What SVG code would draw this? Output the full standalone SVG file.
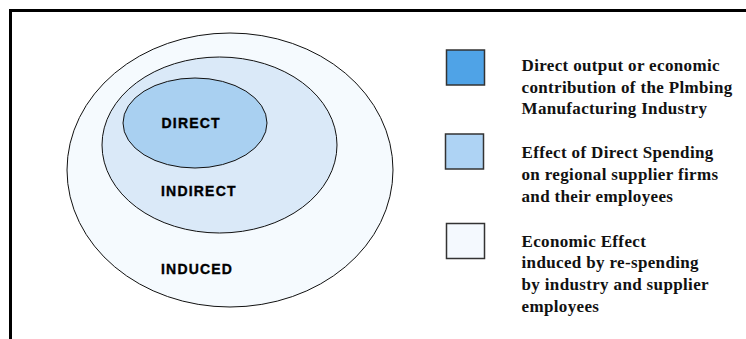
<svg xmlns="http://www.w3.org/2000/svg" width="746" height="339" viewBox="0 0 746 339">
<style>
.ell{stroke:#111;stroke-width:1}
.lbl{font-family:"Liberation Sans",Arial,sans-serif;font-weight:bold;font-size:14px;letter-spacing:1.2px;fill:#000;stroke:#000;stroke-width:0.35}
.box{stroke:#333;stroke-width:1.5}
.leg{font-family:"Liberation Serif","Times New Roman",serif;font-weight:bold;font-size:17px;letter-spacing:0.35px;fill:#111}
</style>
<rect x="0" y="0" width="746" height="339" fill="#fff"/>
<path d="M10.5 339 V10.5 H746" fill="none" stroke="#000" stroke-width="3"/>
<g id="induced">
<ellipse class="ell" cx="230" cy="170" rx="163" ry="137" fill="#F5FAFE"/>
<text class="lbl" x="161" y="274">INDUCED</text>
</g>
<g id="indirect">
<ellipse class="ell" cx="219.5" cy="145" rx="117.5" ry="88" fill="#DAE9F8"/>
<text class="lbl" x="161" y="196">INDIRECT</text>
</g>
<g id="direct">
<ellipse class="ell" cx="195" cy="123" rx="72" ry="45" fill="#A9D0F1"/>
<text class="lbl" x="161.5" y="127.5">DIRECT</text>
</g>
<g id="legend-direct">
<rect class="box" x="446.5" y="50" width="38" height="35" fill="#4FA3E7"/>
<text class="leg" x="521.5"><tspan x="521.5" y="70.7">Direct output or economic</tspan><tspan x="521.5" y="92.5">contribution of the Plmbing</tspan><tspan x="521.5" y="114.2">Manufacturing Industry</tspan></text>
</g>
<g id="legend-indirect">
<rect class="box" x="445.5" y="134" width="38" height="35" fill="#AED3F4"/>
<text class="leg" x="521.5"><tspan x="521.5" y="158.3">Effect of Direct Spending</tspan><tspan x="521.5" y="180">on regional supplier firms</tspan><tspan x="521.5" y="201.7">and their employees</tspan></text>
</g>
<g id="legend-induced">
<rect class="box" x="446.5" y="223.5" width="38" height="35" fill="#F4F9FE"/>
<text class="leg" x="521.5"><tspan x="521.5" y="246.7">Economic Effect</tspan><tspan x="521.5" y="268.3">induced by re-spending</tspan><tspan x="521.5" y="290">by industry and supplier</tspan><tspan x="521.5" y="311.7">employees</tspan></text>
</g>
<g id="connectors"></g>
</svg>
